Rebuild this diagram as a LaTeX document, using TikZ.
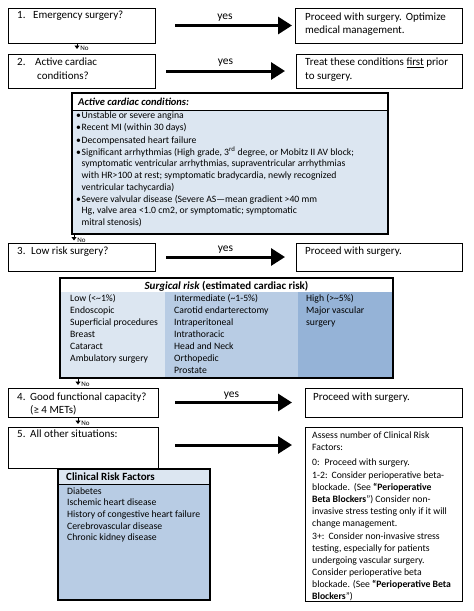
\documentclass[tikz,border=0pt]{standalone}
\usepackage{fontspec}
\setmainfont{Carlito}
\usetikzlibrary{arrows.meta,fit}
\definecolor{lightb}{HTML}{DCE6F1}
\definecolor{midb}{HTML}{B8CCE4}
\definecolor{darkb}{HTML}{95B3D7}
\begin{document}
\begin{tikzpicture}[x=1pt,y=-1pt,
  mainbox/.style={draw, line width=1pt, inner sep=0pt, outer sep=0pt},
  panel/.style={draw, line width=1.3pt, inner sep=0pt, outer sep=0pt},
  tl/.style={anchor=north west, inner sep=0pt, align=left},
  bigtxt/.style={font=\fontsize{11}{13.4}\selectfont},
  smalltxt/.style={font=\fontsize{9.7}{12}\selectfont},
  yesarrow/.style={line width=3pt, -{Triangle[length=14pt,width=17pt]}},
  noarrow/.style={line width=0.9pt, -{Triangle[length=3.5pt,width=5pt]}},
  nolabel/.style={font=\fontsize{7}{8}\selectfont, anchor=west, inner sep=0pt},
  yeslabel/.style={font=\fontsize{11.5}{13}\selectfont, inner sep=0pt, anchor=south},
]
\fill[white] (0,0) rectangle (474,611);
\useasboundingbox (0,0) rectangle (474,611);

% ---------- main boxes ----------
\node[mainbox, fit={(8,8) (155,43)}] (b1) {};
\node[mainbox, fit={(295,8) (462,43)}] (r1) {};
\node[mainbox, fit={(8,54) (155,88)}] (b2) {};
\node[mainbox, fit={(296,54) (462,88)}] (r2) {};
\node[mainbox, fit={(8,243) (155,271)}] (b3) {};
\node[mainbox, fit={(296,243) (462,271)}] (r3) {};
\node[mainbox, fit={(8,388) (158,417)}] (b4) {};
\node[mainbox, fit={(305,388) (462,417)}] (r4) {};
\node[mainbox, fit={(8,427) (158,468)}] (b5) {};
\node[mainbox, fit={(305,427) (462,601)}] (r5) {};

\node[tl, bigtxt] (t1) at (17,9.1) {\strut 1.\hspace{7.7pt}Emergency surgery?};
\node[tl, bigtxt] (tr1) at (305,10.8) {\strut Proceed with surgery.\hspace{4pt}Optimize\\medical management.};
\node[tl, font=\fontsize{11}{14.2}\selectfont] (t2) at (17,55.3) {\strut 2.\hspace{9.7pt}Active cardiac\\\hspace*{20pt}conditions?};
\node[tl, font=\fontsize{11}{14.2}\selectfont] (tr2) at (305,55.3) {\strut Treat these conditions \underline{first} prior\\to surgery.};
\node[tl, bigtxt] (t3) at (17,245.1) {\strut 3.\hspace{5.7pt}Low risk surgery?};
\node[tl, bigtxt] (tr3) at (305,245.1) {\strut Proceed with surgery.};
\node[tl, font=\fontsize{11}{13}\selectfont] (t4) at (17,391.4) {\strut 4.\hspace{4.7pt}Good functional capacity?\\\hspace*{13pt}(≥ 4 METs)};
\node[tl, bigtxt] (tr4) at (313,391.1) {\strut Proceed with surgery.};
\node[tl, bigtxt] (t5) at (17,427.6) {\strut 5.\hspace{4.7pt}All other situations:};
\node[tl, smalltxt] (tr5) at (312,429.6) {\strut Assess number of Clinical Risk\\
Factors:\\[3pt]
0:\hspace{5pt}Proceed with surgery.\\[1.5pt]
1-2:\hspace{4pt}Consider perioperative beta-\\
blockade.\hspace{4pt}(See \textbf{“Perioperative}\\
\textbf{Beta Blockers}”) Consider non-\\
invasive stress testing only if it will\\
change management.\\[0.5pt]
3+:\hspace{4pt}Consider non-invasive stress\\
testing, especially for patients\\
undergoing vascular surgery.\\
Consider perioperative beta\\
blockade. (See \textbf{“Perioperative Beta}\\
\textbf{Blockers}”)};

% ---------- active cardiac conditions ----------
\fill[lightb] (72,110) rectangle (388,234);
\draw[line width=0.6pt] (72,110) -- (388,110);
\node[panel, fit={(72,93) (388,234)}] (act) {};
\node[anchor=base west, inner sep=0pt, font=\fontsize{10.5}{12}\selectfont\bfseries\itshape] (acth) at (78,105.4) {Active cardiac conditions:};
\node[tl, font=\fontsize{9.7}{11.6}\selectfont] (actl) at (76,110.4) {\strut
\makebox[5.5pt][l]{•}Unstable or severe angina\\[0.6pt]
\makebox[5.5pt][l]{•}Recent MI (within 30 days)\\[0.6pt]
\makebox[5.5pt][l]{•}Decompensated heart failure\\[0.6pt]
\makebox[5.5pt][l]{•}Significant arrhythmias (High grade, 3\textsuperscript{rd} degree, or Mobitz II AV block;\\
\hspace*{5.5pt}symptomatic ventricular arrhythmias, supraventricular arrhythmias\\
\hspace*{5.5pt}with HR>100 at rest; symptomatic bradycardia, newly recognized\\
\hspace*{5.5pt}ventricular tachycardia)\\[0.6pt]
\makebox[5.5pt][l]{•}Severe valvular disease (Severe AS---mean gradient >40 mm\\
\hspace*{5.5pt}Hg, valve area <1.0 cm2, or symptomatic; symptomatic\\
\hspace*{5.5pt}mitral stenosis)};

% ---------- surgical risk table ----------
\fill[lightb] (60,292) rectangle (165,378);
\fill[midb] (165,292) rectangle (298,378);
\fill[darkb] (298,292) rectangle (393,378);
\node[panel, fit={(60,278) (393,378)}] (risk) {};
\node[anchor=base, inner sep=0pt, font=\fontsize{11}{13}\selectfont\bfseries] (riskh) at (226.5,289.5) {\textit{Surgical risk} (estimated cardiac risk)};
\node[tl, smalltxt] (low) at (70,292.6) {\strut Low (<\textasciitilde 1\%)\\Endoscopic\\Superficial procedures\\Breast\\Cataract\\Ambulatory surgery};
\node[tl, smalltxt] (mid) at (174,292.6) {\strut Intermediate (\textasciitilde 1-5\%)\\Carotid endarterectomy\\Intraperitoneal\\Intrathoracic\\Head and Neck\\Orthopedic\\Prostate};
\node[tl, smalltxt] (high) at (306,292.6) {\strut High (>\textasciitilde 5\%)\\Major vascular\\surgery};

% ---------- clinical risk factors ----------
\fill[lightb] (58,469) rectangle (210,484);
\fill[midb] (58,484) rectangle (210,600);
\draw[line width=0.6pt] (58,484) -- (210,484);
\node[panel, fit={(58,469) (210,600)}] (crf) {};
\node[anchor=base west, inner sep=0pt, font=\fontsize{11}{13}\selectfont\bfseries] (crfh) at (66,480.5) {Clinical Risk Factors};
\node[tl, font=\fontsize{9.7}{11.7}\selectfont] (crfl) at (67,485.8) {\strut Diabetes\\Ischemic heart disease\\History of congestive heart failure\\Cerebrovascular disease\\Chronic kidney disease};

% ---------- yes arrows ----------
\draw[yesarrow, shorten <=20pt, shorten >=3pt] (b1.east) -- (r1.west) node[yeslabel, midway, above=3pt] {yes};
\draw[yesarrow, shorten <=11pt, shorten >=11pt] (b2.east) -- (r2.west) node[yeslabel, midway, above=3pt] {yes};
\draw[yesarrow, shorten <=11pt, shorten >=11pt] (b3.east) -- (r3.west) node[yeslabel, midway, above=2pt] {yes};
\draw[yesarrow, shorten <=17pt, shorten >=13pt] (b4.east) -- (b4.east -| r4.west) node[yeslabel, midway, above=1.5pt] {yes};
\draw[yesarrow, shorten <=17pt, shorten >=13pt] ([yshift=2.5pt]b5.east) -- ([yshift=2.5pt]b5.east -| r5.west);

% ---------- no arrows ----------
\coordinate (n1) at (77,0);
\coordinate (n2) at (74,0);
\coordinate (n3) at (78,0);
\draw[noarrow, shorten >=5pt] (b1.south -| n1) -- (b2.north -| n1) node[nolabel, pos=0.5, xshift=3pt] {No};
\draw[noarrow, shorten >=2.5pt] (act.south -| n2) -- (b3.north -| n2) node[nolabel, pos=0.65, xshift=3pt] {No};
\draw[noarrow, shorten >=3pt] (risk.south -| n3) -- (b4.north -| n3) node[nolabel, pos=0.6, xshift=3pt] {No};
\draw[noarrow, shorten >=3pt] (b4.south -| n3) -- (b5.north -| n3) node[nolabel, pos=0.6, xshift=3pt] {No};
\end{tikzpicture}
\end{document}
